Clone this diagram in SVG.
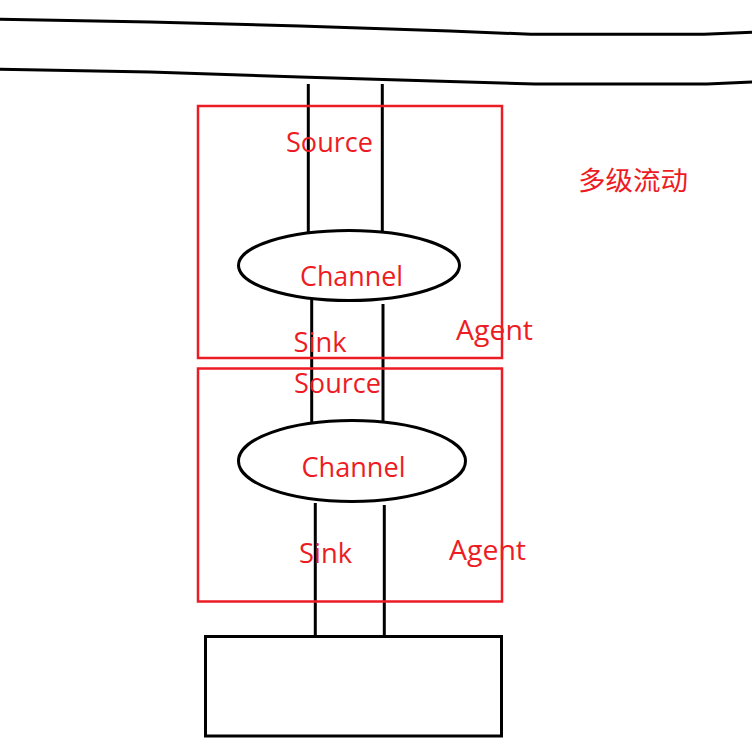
<svg xmlns="http://www.w3.org/2000/svg" width="752" height="747" viewBox="0 0 752 747">
<style>
.ln{fill:none;stroke:#000;stroke-width:3}
.agent{fill:none;stroke:#ED1C24;stroke-width:2.5}
.ch{fill:#fff;stroke:#000;stroke-width:3}
.t{fill:#ED1C24;font-family:"Open Sans","Noto Sans CJK SC",sans-serif;font-size:28px}
.cjk{font-size:26px}
</style>
<rect width="752" height="747" fill="#fff"/>
<g id="pipes">
<path class="ln" d="M0,19.3 L150,22 L300,26 L450,31 L531,34.3 L704,34.3 L752,32.3"/>
<path class="ln" d="M0,69.3 L150,72 L300,77 L450,81.5 L535,84 L707,84 L752,82"/>
</g>
<g id="connectors">
<line class="ln" x1="308.3" y1="84" x2="308.3" y2="232"/>
<line class="ln" x1="382.3" y1="84" x2="382.3" y2="232"/>
<line class="ln" x1="311.7" y1="299" x2="311.7" y2="422"/>
<line class="ln" x1="383" y1="304" x2="383" y2="421"/>
<line class="ln" x1="315.3" y1="503" x2="315.3" y2="636"/>
<line class="ln" x1="384.3" y1="505" x2="384.3" y2="636"/>
</g>
<g id="agent1">
<rect class="agent" x="198" y="106" width="304" height="252"/>
<text class="t" x="286" y="151.5" textLength="87" lengthAdjust="spacingAndGlyphs">Source</text>
<text class="t" x="293.5" y="352" textLength="53" lengthAdjust="spacingAndGlyphs">Sink</text>
<text class="t" x="456" y="340" textLength="77" lengthAdjust="spacingAndGlyphs">Agent</text>
</g>
<g id="channel1">
<ellipse class="ch" cx="349" cy="265.5" rx="110.5" ry="35"/>
<text class="t" x="300" y="285.5" textLength="103" lengthAdjust="spacingAndGlyphs">Channel</text>
</g>
<g id="agent2">
<rect class="agent" x="198" y="368.5" width="304" height="233"/>
<text class="t" x="294" y="393" textLength="87" lengthAdjust="spacingAndGlyphs">Source</text>
<text class="t" x="299" y="563" textLength="53" lengthAdjust="spacingAndGlyphs">Sink</text>
<text class="t" x="449" y="560" textLength="77" lengthAdjust="spacingAndGlyphs">Agent</text>
</g>
<g id="channel2">
<ellipse class="ch" cx="352" cy="461" rx="113.5" ry="40.5"/>
<text class="t" x="301.5" y="476.5" textLength="104" lengthAdjust="spacingAndGlyphs">Channel</text>
</g>
<g id="sink-target">
<rect class="ln" x="205.5" y="636.5" width="296" height="99.5"/>
</g>
<g id="title">
<text class="t cjk" x="578" y="190" textLength="110" lengthAdjust="spacingAndGlyphs">多级流动</text>
</g>
</svg>
